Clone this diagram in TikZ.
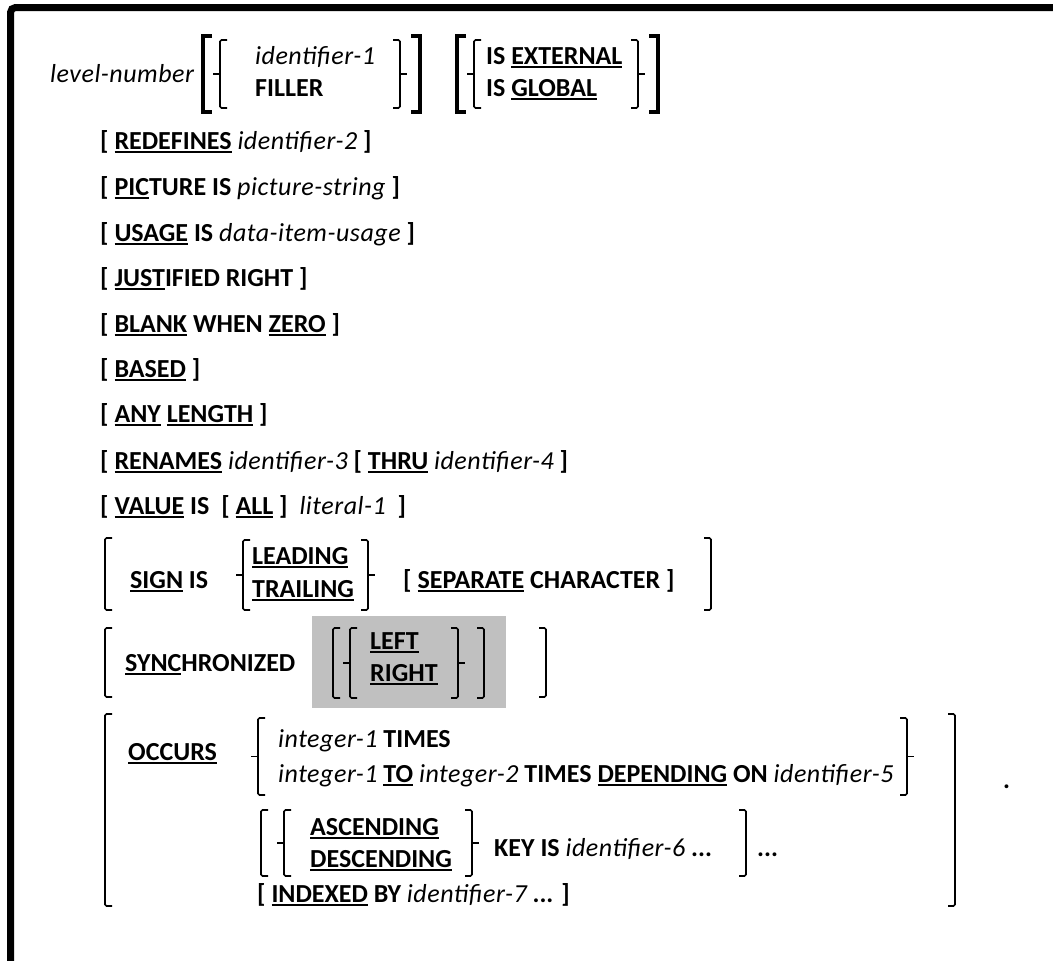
\documentclass[tikz,border=0pt]{standalone}
\usepackage{fontspec}
\setmainfont{Carlito}
\usepackage{tikz}
\usetikzlibrary{positioning}
\definecolor{boxgray}{HTML}{C0C0C0}
\newsavebox{\kwbox}
\newcommand{\kw}[1]{\sbox{\kwbox}{\bfseries #1}\rlap{\rule[-3.5pt]{\wd\kwbox}{2pt}}\usebox{\kwbox}}
\newcommand{\idf}[1]{{\mdseries\itshape\addfontfeature{LetterSpace=2}#1}}
\tikzset{
  txt/.style    = {anchor=base west, inner sep=0pt, font=\fontsize{26}{30}\selectfont\bfseries},
  brk/.style    = {line width=1.6pt, rounded corners=1.5pt},
  bigbrk/.style = {line width=4pt},
}
% brackets: x, top, bottom
\newcommand{\sqL}[3]{\draw[brk] (#1+7,#2) -- (#1,#2) -- (#1,#3) -- (#1+7,#3);}
\newcommand{\sqR}[3]{\draw[brk] (#1-7,#2) -- (#1,#2) -- (#1,#3) -- (#1-7,#3);}
\newcommand{\bigL}[3]{\draw[bigbrk] (#1+9,#2) -- (#1,#2) -- (#1,#3) -- (#1+9,#3);}
\newcommand{\bigR}[3]{\draw[bigbrk] (#1-9,#2) -- (#1,#2) -- (#1,#3) -- (#1-9,#3);}
\newcommand{\brcL}[3]{\sqL{#1}{#2}{#3}\draw[brk] (#1,{(#2+#3)/2}) -- (#1-7,{(#2+#3)/2});}
\newcommand{\brcR}[3]{\sqR{#1}{#2}{#3}\draw[brk] (#1,{(#2+#3)/2}) -- (#1+7,{(#2+#3)/2});}

\begin{document}
\begin{tikzpicture}[x=1pt,y=-1pt]
\useasboundingbox (0,0) rectangle (1053,961);
\draw[line width=7pt, rounded corners=5pt] (1053,7.5) -- (10.5,7.5) -- (10.5,961);

% level-number line
\node[txt] (lvl) at (50,82) {\idf{level-number}};
\bigL{203}{36}{112} \brcL{220}{40}{108}
\node[txt] (id1) at (255,64) {\idf{identifier-1}};
\node[txt] (fil) at (255,96) {FILLER};
\brcR{400}{40}{108} \bigR{420}{36}{112}
\bigL{457}{36}{112} \brcL{474}{40}{108}
\node[txt] (ext) at (486,64) {IS \kw{EXTERNAL}};
\node[txt] (glb) at (486,96) {IS \kw{GLOBAL}};
\brcR{638}{40}{108} \bigR{658}{36}{112}

% simple clauses
\node[txt] (redef) at (100,149) {[ \kw{REDEFINES} \idf{identifier-2} ]};
\node[txt] (pic)   at (100,195) {[ \kw{PIC}TURE IS \idf{picture-string} ]};
\node[txt] (usage) at (100,241) {[ \kw{USAGE} IS \idf{data-item-usage} ]};
\node[txt] (just)  at (100,286) {[ \kw{JUST}IFIED RIGHT ]};
\node[txt] (blank) at (100,332) {[ \kw{BLANK} WHEN \kw{ZERO} ]};
\node[txt] (based) at (100,377) {[ \kw{BASED} ]};
\node[txt] (any)   at (100,422) {[ \kw{ANY} \kw{LENGTH} ]};
\node[txt] (ren)   at (100,469) {[ \kw{RENAMES} \idf{identifier-3} [ \kw{THRU} \idf{identifier-4} ]};
\node[txt] (val)   at (100,514) {[ \kw{VALUE} IS\hspace{6pt} [ \kw{ALL} ]\hspace{6pt} \idf{literal-1}\hspace{6pt} ]};

% SIGN clause
\sqL{105}{538}{610}
\node[txt] (sign) at (130,588) {\kw{SIGN} IS};
\brcL{243}{540}{610}
\node[txt] (lead) at (252,564) {\kw{LEADING}};
\node[txt] (trail) at (252,597) {\kw{TRAILING}};
\brcR{368}{540}{610}
\node[txt] (sep) at (403,588) {[ \kw{SEPARATE} CHARACTER ]};
\sqR{711}{538}{610}

% SYNCHRONIZED clause
\fill[boxgray] (312,616) rectangle (506,708);
\sqL{105}{628}{697}
\node[txt] (sync) at (125,671) {\kw{SYNC}HRONIZED};
\sqL{333}{628}{698} \brcL{350}{628}{698}
\node[txt] (left) at (370,649) {\kw{LEFT}};
\node[txt] (right) at (370,681) {\kw{RIGHT}};
\brcR{458}{628}{698} \sqR{484}{628}{698}
\sqR{546}{628}{697}

% OCCURS clause
\sqL{105}{714}{906}
\node[txt] (occ) at (128,760) {\kw{OCCURS}};
\brcL{258}{718}{795}
\node[txt] (tim1) at (278,747) {\idf{integer-1} TIMES};
\node[txt] (tim2) at (278,782) {\idf{integer-1} \kw{TO} \idf{integer-2} TIMES \kw{DEPENDING} ON \idf{identifier-5}};
\brcR{907}{718}{795}
\sqR{955}{714}{906}
\node[txt] (dot) at (1003,788) {.};
\sqL{261}{810}{876} \brcL{284}{810}{876}
\node[txt] (asc) at (310,835) {\kw{ASCENDING}};
\node[txt] (desc) at (310,867) {\kw{DESCENDING}};
\brcR{472}{810}{876}
\node[txt] (key) at (494,856) {KEY IS \idf{identifier-6} ...};
\sqR{746}{810}{876}
\node[txt] (rep) at (757,856) {...};
\node[txt] (idx) at (257,902) {[ \kw{INDEXED} BY \idf{identifier-7} ... ]};
\end{tikzpicture}
\end{document}
